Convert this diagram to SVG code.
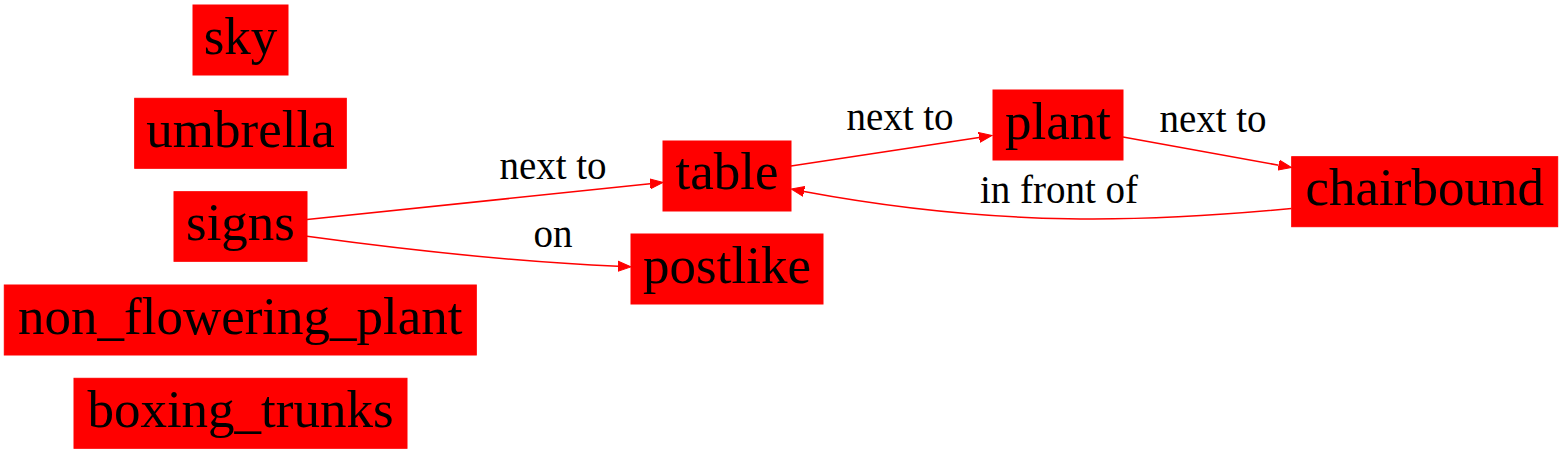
<svg xmlns="http://www.w3.org/2000/svg" width="1563" height="453" viewBox="0 0 1563 453">
<style>
.node rect{fill:#ff0000;stroke:#ff0000;stroke-width:1}
.ntext{font-size:53px;fill:#000;text-anchor:middle}
.edge path{fill:none;stroke:#ff0000;stroke-width:1.5}
.elabel{font-size:39px;fill:#000;text-anchor:middle}
</style>
<defs>
<marker id="arrow" markerUnits="userSpaceOnUse" markerWidth="14" markerHeight="12" viewBox="0 -6 14 12" refX="0" refY="0" orient="auto">
<path d="M0,-5 L13,0 L0,5 z" fill="#ff0000" stroke="#ff0000" stroke-width="1"/>
</marker>
</defs>
<rect width="1563" height="453" fill="#ffffff"/>
<g id="edges" font-family="'Liberation Serif', 'Times New Roman', Times, serif">
<g class="edge" id="e_signs_table"><path d="M307,219.5 L650.1,183.8" marker-end="url(#arrow)"/><text class="elabel" x="553" y="179">next to</text></g>
<g class="edge" id="e_signs_postlike"><path d="M307,236.3 C400,249 520,262 618,266.3" marker-end="url(#arrow)"/><text class="elabel" x="553" y="246.5">on</text></g>
<g class="edge" id="e_table_plant"><path d="M791,166 L979.1,137.45" marker-end="url(#arrow)"/><text class="elabel" x="900" y="130">next to</text></g>
<g class="edge" id="e_plant_chairbound"><path d="M1123,137 L1278.7,165.2" marker-end="url(#arrow)"/><text class="elabel" x="1213" y="131.5">next to</text></g>
<g class="edge" id="e_chairbound_table"><path d="M1291.5,208.5 C1150,222 1000,228 804,191.5" marker-end="url(#arrow)"/><text class="elabel" x="1059" y="203">in front of</text></g>
</g>
<g id="nodes" font-family="'Liberation Serif', 'Times New Roman', Times, serif">
<g class="node" id="sky"><rect x="193" y="5" width="95" height="70"/><text class="ntext" x="240.5" y="53.5">sky</text></g>
<g class="node" id="umbrella"><rect x="134.7" y="98.3" width="211.6" height="70"/><text class="ntext" x="240.5" y="146.8">umbrella</text></g>
<g class="node" id="signs"><rect x="174" y="191.7" width="133" height="69.6"/><text class="ntext" x="240.5" y="240">signs</text></g>
<g class="node" id="non_flowering_plant"><rect x="4.3" y="285" width="472" height="70"/><text class="ntext" x="240.3" y="333.5">non_flowering_plant</text></g>
<g class="node" id="boxing_trunks"><rect x="74" y="378.3" width="333" height="70"/><text class="ntext" x="240.5" y="426.8">boxing_trunks</text></g>
<g class="node" id="table"><rect x="663" y="141" width="128" height="70"/><text class="ntext" x="727" y="189">table</text></g>
<g class="node" id="postlike"><rect x="631" y="234" width="192" height="70"/><text class="ntext" x="727" y="282.5">postlike</text></g>
<g class="node" id="plant"><rect x="993" y="90" width="130" height="70"/><text class="ntext" x="1058" y="138.5">plant</text></g>
<g class="node" id="chairbound"><rect x="1291.7" y="156.7" width="266" height="70"/><text class="ntext" x="1424.7" y="204.5">chairbound</text></g>
</g>
</svg>
